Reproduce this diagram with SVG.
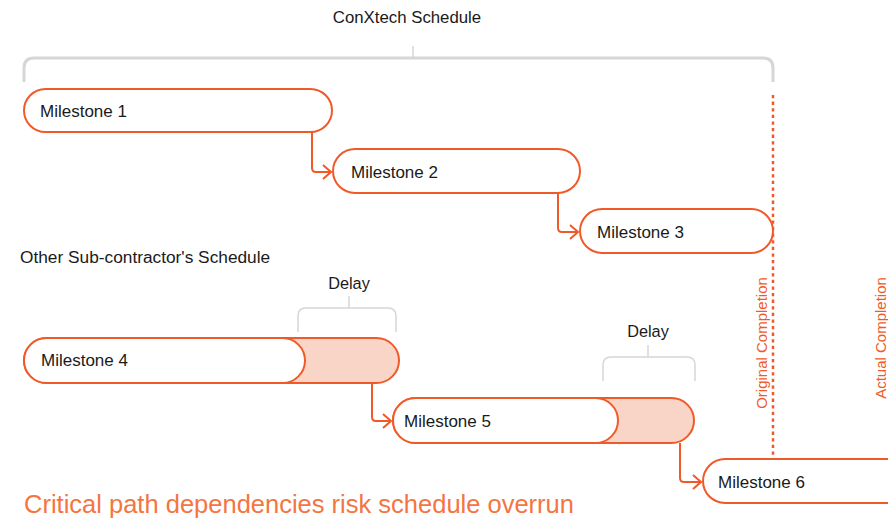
<svg xmlns="http://www.w3.org/2000/svg" width="888" height="518" viewBox="0 0 888 518">
<defs>
<style>
.lbl{font-family:"Liberation Sans",Arial,sans-serif;font-size:17px;fill:#1a1a1a}
.hdr{font-family:"Liberation Sans",Arial,sans-serif;font-size:16.8px;fill:#1a1a1a}
.node{fill:#fff;stroke:#f05a28;stroke-width:2}
.delay{fill:#f9d5c8;stroke:#f05a28;stroke-width:2}
.brace{fill:none;stroke:#d6d6d6;stroke-width:3}
.tick{fill:none;stroke:#d6d6d6;stroke-width:1.5}
.conn{fill:none;stroke:#f05a28;stroke-width:2}
.dot{fill:none;stroke:#f05a28;stroke-width:2.5;stroke-dasharray:3.3 3.3}
.vt{font-family:"Liberation Sans",Arial,sans-serif;font-size:15px;fill:#f05a28}
</style>
<marker id="arr" viewBox="0 0 10 16" refX="9" refY="8" markerWidth="10" markerHeight="16" markerUnits="userSpaceOnUse" orient="auto">
<path d="M1,1 L9,8 L1,15" fill="none" stroke="#f05a28" stroke-width="2"/>
</marker>
</defs>
<rect width="888" height="518" fill="#fff"/>

<g id="title">
<text class="hdr" x="407" y="23" text-anchor="middle">ConXtech Schedule</text>
<path class="brace" d="M24,82 V68 Q24,58 34,58 H763 Q773,58 773,68 V82"/>
<path class="tick" d="M413,46 V58"/>
</g>

<g id="subtitle">
<text class="hdr" x="20" y="263" style="font-size:17.3px">Other Sub-contractor's Schedule</text>
</g>

<g id="connectors">
<path class="conn" d="M312,132 V168 Q312,172 316,172 H331" marker-end="url(#arr)"/>
<path class="conn" d="M558,193 V228 Q558,232 562,232 H578" marker-end="url(#arr)"/>
<path class="conn" d="M372,383 V417 Q372,421 376,421 H391" marker-end="url(#arr)"/>
<path class="conn" d="M680,443 V478 Q680,482 684,482 H701" marker-end="url(#arr)"/>
<path class="dot" d="M773,95 V459"/>
</g>

<g id="milestone1">
<rect class="node" x="24" y="89" width="308" height="43" rx="21.5"/>
<text class="lbl" x="40" y="117">Milestone 1</text>
</g>
<g id="milestone2">
<rect class="node" x="333" y="149" width="247" height="44" rx="22"/>
<text class="lbl" x="351" y="178">Milestone 2</text>
</g>
<g id="milestone3">
<rect class="node" x="580" y="209" width="193" height="44" rx="22"/>
<text class="lbl" x="597" y="238">Milestone 3</text>
</g>

<g id="delay1">
<text class="hdr" x="349" y="289" text-anchor="middle" style="font-size:16.3px">Delay</text>
<path class="tick" d="M298,332 V316 Q298,308 306,308 H388 Q396,308 396,316 V332 M349,296 V308"/>
</g>
<g id="milestone4">
<rect class="delay" x="24" y="338" width="375" height="45" rx="22.5"/>
<rect class="node" x="24" y="338" width="281" height="45" rx="22.5"/>
<text class="lbl" x="41" y="366">Milestone 4</text>
</g>

<g id="delay2">
<text class="hdr" x="648" y="337" text-anchor="middle" style="font-size:16.3px">Delay</text>
<path class="tick" d="M603,381 V365 Q603,357 611,357 H687 Q695,357 695,365 V381 M648,345 V357"/>
</g>
<g id="milestone5">
<rect class="delay" x="393" y="398" width="301" height="45" rx="22.5"/>
<rect class="node" x="393" y="398" width="225" height="45" rx="22.5"/>
<text class="lbl" x="404" y="427">Milestone 5</text>
</g>

<g id="milestone6">
<rect class="node" x="703" y="459" width="210" height="44" rx="22"/>
<text class="lbl" x="718" y="488">Milestone 6</text>
</g>

<g id="markers">
<text class="vt" transform="translate(767,343) rotate(-90)" text-anchor="middle">Original Completion</text>
<text class="vt" transform="translate(886,338) rotate(-90)" text-anchor="middle">Actual Completion</text>
</g>

<text x="24" y="513" style="font-family:'Liberation Sans',Arial,sans-serif;font-size:25.5px;fill:#f4753f">Critical path dependencies risk schedule overrun</text>
</svg>
